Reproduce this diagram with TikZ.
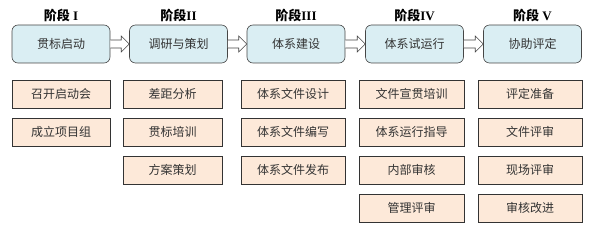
\documentclass[tikz,border=0pt]{standalone}
\usepackage{fontspec}
\setmainfont{Liberation Serif}
\newfontfamily\cjk{Noto Sans CJK SC}
\definecolor{stageblue}{RGB}{218,238,243}
\definecolor{taskorange}{RGB}{253,233,217}
\definecolor{edgegray}{RGB}{70,70,70}

\begin{document}
\begin{tikzpicture}[x=1pt, y=-1pt,
	every node/.style={font=\cjk\fontsize{12}{14}\selectfont, text=black!80},
	stage/.style={draw=edgegray, semithick, fill=stageblue, rounded corners=6pt, minimum width=98pt, minimum height=38pt, inner sep=0pt},
	task/.style={draw=black!80, semithick, fill=taskorange, minimum height=28pt, inner sep=0pt},
	phase/.style={font=\bfseries\fontsize{13}{15}\selectfont, text=black},
	link/.style={draw=edgegray, semithick, fill=white, line join=miter}]
	\useasboundingbox (0,0) rectangle (600,235);
	% stages
	\node[stage] (s1) at (61,44) {贯标启动};
	\node[stage] (s2) at (178.5,44) {调研与策划};
	\node[stage] (s3) at (296,44) {体系建设};
	\node[stage] (s4) at (414.5,44) {体系试运行};
	\node[stage] (s5) at (532.5,44) {协助评定};
	\node[phase] (p1) at (61,15) {{\cjk 阶段} I};
	\node[phase] (p2) at (178.5,15) {{\cjk 阶段}II};
	\node[phase] (p3) at (296,15) {{\cjk 阶段}III};
	\node[phase] (p4) at (414.5,15) {{\cjk 阶段}IV};
	\node[phase] (p5) at (532.5,15) {{\cjk 阶段} V};
	% hollow block arrows between stages
	\draw[link] ([yshift=4pt]s1.east) -| ([xshift=-8pt, yshift=8pt]s2.west) -- (s2.west) -- ([xshift=-8pt, yshift=-8pt]s2.west) |- ([yshift=-4pt]s1.east);
	\draw[link] ([yshift=4pt]s2.east) -| ([xshift=-8pt, yshift=8pt]s3.west) -- (s3.west) -- ([xshift=-8pt, yshift=-8pt]s3.west) |- ([yshift=-4pt]s2.east);
	\draw[link] ([yshift=4pt]s3.east) -| ([xshift=-8pt, yshift=8pt]s4.west) -- (s4.west) -- ([xshift=-8pt, yshift=-8pt]s4.west) |- ([yshift=-4pt]s3.east);
	\draw[link] ([yshift=4pt]s4.east) -| ([xshift=-8pt, yshift=8pt]s5.west) -- (s5.west) -- ([xshift=-8pt, yshift=-8pt]s5.west) |- ([yshift=-4pt]s4.east);
	% tasks
	\node[task, minimum width=98pt] (t11) at (61,94) {召开启动会};
	\node[task, minimum width=98pt] (t12) at (61,132) {成立项目组};
	\node[task, minimum width=99pt] (t21) at (172.5,94) {差距分析};
	\node[task, minimum width=99pt] (t22) at (172.5,132) {贯标培训};
	\node[task, minimum width=99pt] (t23) at (172.5,170) {方案策划};
	\node[task, minimum width=104pt] (t31) at (293,94) {体系文件设计};
	\node[task, minimum width=104pt] (t32) at (293,132) {体系文件编写};
	\node[task, minimum width=104pt] (t33) at (293,170) {体系文件发布};
	\node[task, minimum width=105pt] (t41) at (411.5,94) {文件宣贯培训};
	\node[task, minimum width=105pt] (t42) at (411.5,132) {体系运行指导};
	\node[task, minimum width=105pt] (t43) at (411.5,170) {内部审核};
	\node[task, minimum width=105pt] (t44) at (411.5,208) {管理评审};
	\node[task, minimum width=104pt] (t51) at (530,94) {评定准备};
	\node[task, minimum width=104pt] (t52) at (530,132) {文件评审};
	\node[task, minimum width=104pt] (t53) at (530,170) {现场评审};
	\node[task, minimum width=104pt] (t54) at (530,208) {审核改进};
\end{tikzpicture}
\end{document}
